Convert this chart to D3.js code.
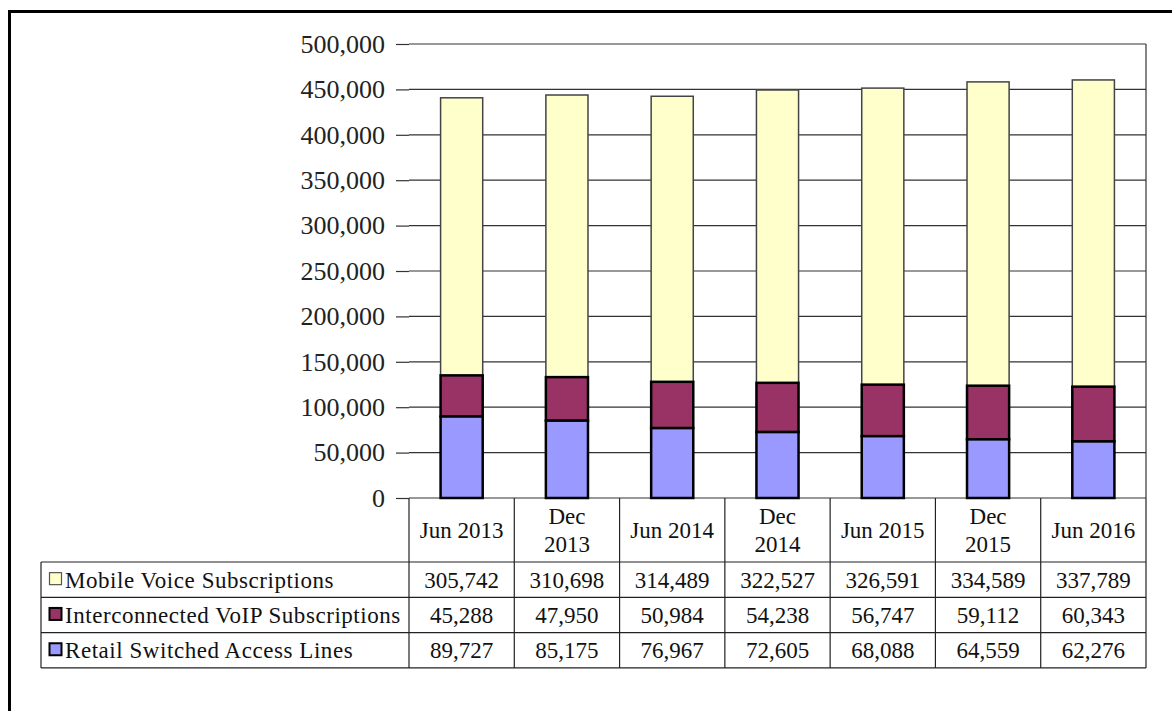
<!DOCTYPE html>
<html>
<head>
<meta charset="utf-8">
<script src="https://d3js.org/d3.v7.min.js"></script>
<style>
	body { margin: 0; background: #fff; }
	svg text { font-family: 'Liberation Serif', 'Times New Roman', serif; }
</style>
</head>
<body>
<div id="chart"></div>
<script>
	// data
	const periods = ['Jun 2013', 'Dec 2013', 'Jun 2014', 'Dec 2014', 'Jun 2015', 'Dec 2015', 'Jun 2016']
	const periodLines = [['Jun 2013'], ['Dec', '2013'], ['Jun 2014'], ['Dec', '2014'], ['Jun 2015'], ['Dec', '2015'], ['Jun 2016']]
	const retailLines = [89727, 85175, 76967, 72605, 68088, 64559, 62276]
	const voipSubs = [45288, 47950, 50984, 54238, 56747, 59112, 60343]
	const mobileSubs = [305742, 310698, 314489, 322527, 326591, 334589, 337789]
	const seriesNames = ['Mobile Voice Subscriptions', 'Interconnected VoIP Subscriptions', 'Retail Switched Access Lines']
	const yTicks = [0, 50000, 100000, 150000, 200000, 250000, 300000, 350000, 400000, 450000, 500000]

	const W = 1172, H = 711
	const m = {l: 409, r: 1146, t: 44, b: 498}
	const FONT = 'Liberation Serif'

	const svg = d3.select('#chart').append('svg')
		.attr('width', W)
		.attr('height', H)
		.style('display', 'block')

	svg.append('rect').attr('width', W).attr('height', H).attr('fill', '#fff')

	// outer frame (runs off right and bottom)
	svg.append('rect')
		.attr('x', 9.5).attr('y', 11.5)
		.attr('width', W + 20).attr('height', H + 20)
		.attr('fill', 'none')
		.attr('stroke', '#000')
		.attr('stroke-width', 3)

	const x = d3.scaleBand().domain(periods).range([m.l, m.r])
	const y = d3.scaleLinear().domain([0, 500000]).range([m.b, m.t])

	// gridlines
	svg.append('g')
		.selectAll('line')
		.data(yTicks)
		.enter()
		.append('line')
		.attr('x1', m.l).attr('x2', m.r)
		.attr('y1', d => y(d)).attr('y2', d => y(d))
		.attr('stroke', '#333')
		.attr('stroke-width', 1.2)

	// y axis
	const yAxis = svg.append('g')
		.attr('transform', 'translate(' + m.l + ',0)')
		.call(d3.axisLeft(y).tickValues(yTicks).tickSize(13).tickPadding(11).tickFormat(d3.format(',')))
	yAxis.attr('font-family', FONT)
	yAxis.select('.domain').remove()
	yAxis.selectAll('line').attr('stroke', '#333').attr('stroke-width', 1.2)
	yAxis.selectAll('text')
		.attr('font-family', FONT)
		.attr('font-size', 26)
		.attr('fill', '#222')

	// right border of plot
	svg.append('line')
		.attr('x1', m.r).attr('x2', m.r).attr('y1', m.t).attr('y2', m.b)
		.attr('stroke', '#333').attr('stroke-width', 1.2)

	// stacked bars
	const rows = periods.map((p, i) => ({period: p, retail: retailLines[i], voip: voipSubs[i], mobile: mobileSubs[i]}))
	const stack = d3.stack().keys(['retail', 'voip', 'mobile'])(rows)
	const colors = {retail: '#9999FF', voip: '#993366', mobile: '#FFFFCC'}
	const barW = x.bandwidth() * 0.4

	stack.slice().reverse().forEach(s => {
		svg.append('g')
			.selectAll('rect')
			.data(s)
			.enter()
			.append('rect')
			.attr('x', d => x(d.data.period) + (x.bandwidth() - barW) / 2)
			.attr('width', barW)
			.attr('y', d => y(d[1]))
			.attr('height', d => y(d[0]) - y(d[1]))
			.attr('fill', colors[s.key])
			.attr('stroke', s.key == 'mobile' ? '#444' : '#000')
			.attr('stroke-width', s.key == 'mobile' ? 1.5 : 2.5)
	})

	// data table
	const tbl = {left: 41, head: 562, rowH: 35.3}
	const tableLines = svg.append('g').attr('stroke', '#222').attr('stroke-width', 1.2)
	const tableBottom = tbl.head + tbl.rowH * 3

	// column separators
	const bounds = periods.map(p => x(p)).concat([m.r])
	bounds.forEach(bx => {
		tableLines.append('line')
			.attr('x1', bx).attr('x2', bx)
			.attr('y1', m.b).attr('y2', tableBottom)
	})
	tableLines.append('line')
		.attr('x1', tbl.left).attr('x2', tbl.left)
		.attr('y1', tbl.head).attr('y2', tableBottom)
	for (let r = 0; r <= 3; r++) {
		tableLines.append('line')
			.attr('x1', tbl.left).attr('x2', m.r)
			.attr('y1', tbl.head + r * tbl.rowH).attr('y2', tbl.head + r * tbl.rowH)
	}

	// header labels
	svg.append('g')
		.selectAll('text')
		.data(periods)
		.enter()
		.append('text')
		.attr('text-anchor', 'middle')
		.attr('font-family', FONT)
		.attr('font-size', 23)
		.attr('fill', '#111')
		.each(function(p, i) {
			const lines = periodLines[i]
			const cx = x(p) + x.bandwidth() / 2
			const mid = (m.b + tbl.head) / 2
			lines.forEach((t, j) => {
				d3.select(this).append('tspan')
					.attr('x', cx)
					.attr('y', mid + 8 + (j - (lines.length - 1) / 2) * 27.5)
					.text(t)
			})
		})

	// series rows
	const tableValues = [mobileSubs, voipSubs, retailLines]
	const keyColors = [colors.mobile, colors.voip, colors.retail]
	seriesNames.forEach((name, r) => {
		const cy = tbl.head + r * tbl.rowH + tbl.rowH / 2
		svg.append('rect')
			.attr('x', 49.5).attr('y', cy - 7)
			.attr('width', 12).attr('height', 12)
			.attr('fill', keyColors[r])
			.attr('stroke', r == 0 ? '#555' : '#000')
			.attr('stroke-width', r == 0 ? 1.2 : 2)
		svg.append('text')
			.attr('x', 65).attr('y', cy + 8)
			.attr('font-family', FONT)
			.attr('font-size', 23)
			.attr('letter-spacing', 0.55)
			.attr('fill', '#111')
			.text(name)
		svg.append('g')
			.selectAll('text')
			.data(tableValues[r])
			.enter()
			.append('text')
			.attr('x', (d, i) => x(periods[i]) + x.bandwidth() / 2)
			.attr('y', cy + 8)
			.attr('text-anchor', 'middle')
			.attr('font-family', FONT)
			.attr('font-size', 23)
			.attr('fill', '#111')
			.text(d => d3.format(',')(d))
	})
</script>
</body>
</html>
